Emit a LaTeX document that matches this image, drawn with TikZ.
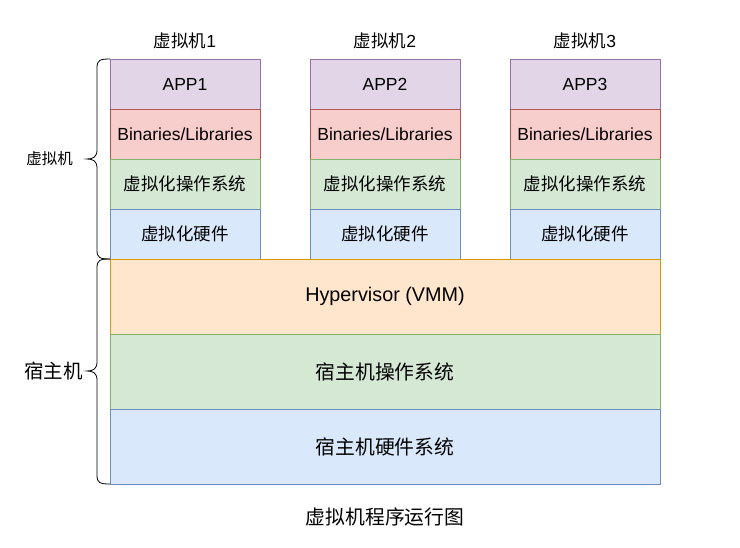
\documentclass[tikz,border=0pt]{standalone}
\usepackage{fontspec}
\setmainfont{Liberation Sans}
\newfontfamily\cjk{Noto Sans CJK SC}
\begin{document}
\begin{tikzpicture}[x=1pt,y=-1pt,
  layer/.style={draw, line width=0.8pt, anchor=north west, inner sep=0pt, outer sep=0pt, font=\fontsize{17.5}{20}\selectfont},
  vmbox/.style={layer, minimum width=150pt, minimum height=50pt},
  hostbox/.style={layer, minimum width=550pt, minimum height=75pt, font=\fontsize{19.8}{23}\selectfont},
  app/.style={vmbox, fill=appfill, draw=appdraw},
  bin/.style={vmbox, fill=binfill, draw=bindraw},
  os/.style={vmbox, fill=osfill, draw=osdraw},
  hw/.style={vmbox, fill=hwfill, draw=hwdraw},
  lbl/.style={font=\fontsize{17.5}{20}\selectfont, inner sep=0pt},
  sidelbl/.style={font=\fontsize{15.5}{18}\selectfont, inner sep=0pt},
  hostside/.style={font=\fontsize{19.5}{22}\selectfont, inner sep=0pt},
  biglbl/.style={font=\fontsize{19.8}{23}\selectfont, inner sep=0pt},
  bracepath/.style={line width=0.8pt, draw=black}
]
\definecolor{appfill}{HTML}{E1D5E7}\definecolor{appdraw}{HTML}{9673A6}
\definecolor{binfill}{HTML}{F8CECC}\definecolor{bindraw}{HTML}{B85450}
\definecolor{osfill}{HTML}{D5E8D4}\definecolor{osdraw}{HTML}{82B366}
\definecolor{hwfill}{HTML}{DAE8FC}\definecolor{hwdraw}{HTML}{6C8EBF}
\definecolor{hvfill}{HTML}{FFE6CC}\definecolor{hvdraw}{HTML}{D79B00}
\useasboundingbox[fill=white] (0,0) rectangle (740,548);

\foreach \i/\x in {1/110,2/310,3/510}{
  \node[lbl] (t\i) at (\x+75,41) {{\cjk 虚拟机}\i};
  \node[app] (app\i) at (\x,59) {APP\i};
  \node[bin] (bin\i) at (\x,109) {Binaries/Libraries};
  \node[os] (os\i) at (\x,159) {\cjk 虚拟化操作系统};
  \node[hw] (hw\i) at (\x,209) {\cjk 虚拟化硬件};
}
\node[hostbox, fill=hvfill, draw=hvdraw] (hv) at (110,259) {Hypervisor (VMM)};
\node[hostbox, fill=osfill, draw=osdraw] (hos) at (110,334) {\cjk 宿主机操作系统};
\node[hostbox, fill=hwfill, draw=hwdraw] (hhw) at (110,409) {\cjk 宿主机硬件系统};
\draw[line width=0.8pt, draw=hvdraw] (hv.north west) -- (hv.north east);

% braces
\draw[bracepath] (app1.north west) .. controls (100,59) and (97,60) .. (97,68) -- (97,150)
  .. controls (97,157) and (93,159) .. (87,159) coordinate (b1tip)
  .. controls (93,159) and (97,161) .. (97,168) -- (97,250)
  .. controls (97,258) and (100,259) .. (hw1.south west);
\draw[bracepath] (hv.north west) .. controls (100,259) and (97,260) .. (97,268) -- (97,362)
  .. controls (97,369) and (93,371) .. (87,371) coordinate (b2tip)
  .. controls (93,371) and (97,373) .. (97,380) -- (97,475)
  .. controls (97,483) and (100,484) .. (hhw.south west);

\node[sidelbl, anchor=east] (vmlbl) at ([xshift=-14pt]b1tip) {\cjk 虚拟机};
\node[hostside, anchor=east] (hostlbl) at ([xshift=-4pt]b2tip) {\cjk 宿主机};
\node[biglbl] (cap) at (385,517) {\cjk 虚拟机程序运行图};
\end{tikzpicture}
\end{document}
